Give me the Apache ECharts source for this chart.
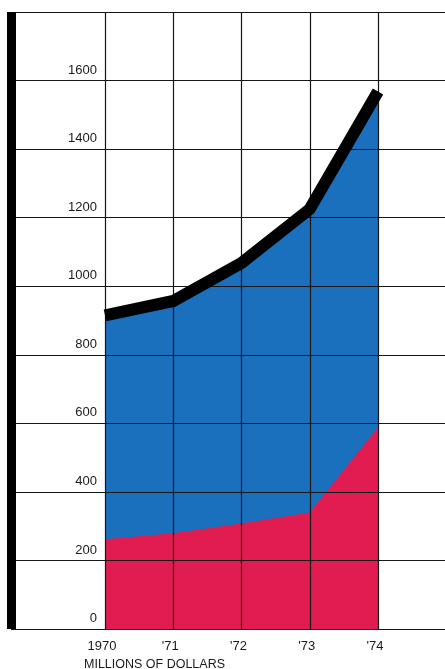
<!DOCTYPE html>
<html>
<head>
<meta charset="utf-8">
<script src="https://cdn.jsdelivr.net/npm/echarts@6/dist/echarts.min.js"></script>
<style>
  html, body { margin: 0; padding: 0; background: #fff; }
  #chart { width: 445px; height: 669px; }
</style>
</head>
<body>
<div id="chart"></div>
<script>
// years along the bottom
const years = ['1970', "'71", "'72", "'73", "'74"]
// total (top of blue area, traced by the black line)
const totals = [915, 957, 1068, 1225, 1568]
// lower red band
const lower = [262, 279, 308, 340, 588]

const gridColor = '#141414'
const textFont = { fontFamily: 'Liberation Sans, Arial, sans-serif', color: '#1a1a1a' }

const chart = echarts.init(document.getElementById('chart'))

chart.setOption({
  animation: false,
  backgroundColor: '#fff',
  title: {
    text: 'MILLIONS OF DOLLARS',
    left: 84,
    top: 658,
    padding: 0,
    textStyle: Object.assign({ fontSize: 12.5, fontWeight: 'normal' }, textFont)
  },
  grid: [
    // full-width grid for the horizontal rules and the thick left bar
    { left: 11, right: 0, top: 12, bottom: 40 },
    // plotting grid, 1970 to 1974
    { left: 105, right: 67, top: 12, bottom: 40 }
  ],
  xAxis: [
    { gridIndex: 0, type: 'value', min: 0, max: 1, show: false },
    {
      gridIndex: 1,
      type: 'category',
      data: years,
      boundaryGap: false,
      z: 3,
      axisLine: { show: false },
      axisTick: { show: false },
      axisLabel: Object.assign({ fontSize: 13, margin: 11, padding: [0, 6, 0, 0] }, textFont),
      splitLine: { show: true, lineStyle: { color: gridColor, width: 1.2 } }
    }
  ],
  yAxis: [
    {
      gridIndex: 0,
      type: 'value',
      min: 0,
      max: 1800,
      interval: 200,
      z: 3,
      axisLine: { show: true, lineStyle: { color: '#000', width: 9, cap: 'butt' } },
      axisTick: { show: false },
      axisLabel: { show: false },
      splitLine: { show: true, lineStyle: { color: gridColor, width: 1.2 } }
    },
    {
      gridIndex: 1,
      type: 'value',
      min: 0,
      max: 1800,
      interval: 200,
      axisLine: { show: false },
      axisTick: { show: false },
      splitLine: { show: false },
      axisLabel: Object.assign({
        fontSize: 13,
        margin: 8,
        verticalAlign: 'bottom',
        padding: [0, 0, 4, 0],
        formatter: v => (v === 1800 ? '' : String(v))
      }, textFont)
    }
  ],
  series: [
    {
      name: 'total',
      type: 'line',
      xAxisIndex: 1,
      yAxisIndex: 1,
      data: totals,
      symbol: 'none',
      z: 1,
      lineStyle: { width: 0 },
      areaStyle: { color: '#1b70be', opacity: 1 }
    },
    {
      name: 'lower',
      type: 'line',
      xAxisIndex: 1,
      yAxisIndex: 1,
      data: lower,
      symbol: 'none',
      z: 2,
      lineStyle: { width: 0 },
      areaStyle: { color: '#e11c50', opacity: 1 }
    },
    {
      name: 'trend',
      type: 'line',
      xAxisIndex: 1,
      yAxisIndex: 1,
      data: totals,
      symbol: 'none',
      z: 5,
      lineStyle: { color: '#000', width: 12, cap: 'butt', join: 'miter' }
    }
  ]
})
</script>
</body>
</html>
